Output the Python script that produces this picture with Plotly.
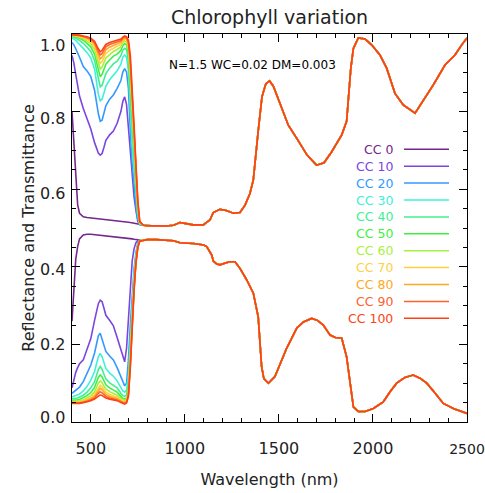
import plotly.graph_objects as go

# ---------------- data ----------------
CC_LEVELS = [0, 10, 20, 30, 40, 50, 60, 70, 80, 90, 100]
CC_COLORS = ["#74278c", "#7b45e0", "#3399ff", "#40f0d8", "#40f090", "#40f040",
             "#a8f040", "#ffd040", "#ffa820", "#ff6030", "#ff4214"]

# visible / red-edge wavelengths (nm), per-CC curves
WL_VIS = [400, 410, 420, 430, 440, 460, 480, 500, 520, 540, 550, 560, 570, 580,
          600, 620, 640, 660, 670, 680, 690, 700, 710, 720, 730, 740, 750, 760, 780]

# upper curves (1 - transmittance)
UP_VIS = {
    0:   [0.80, 0.72, 0.62, 0.56, 0.538, 0.529, 0.527, 0.526, 0.525, 0.524, 0.524, 0.523, 0.523, 0.522,
          0.521, 0.520, 0.519, 0.518, 0.517, 0.517, 0.516, 0.515, 0.514, 0.513, 0.512, 0.511, 0.510, 0.509, 0.507],
    10:  [0.945, 0.925, 0.895, 0.865, 0.840, 0.808, 0.780, 0.755, 0.720, 0.693, 0.688, 0.692, 0.708, 0.726,
          0.740, 0.750, 0.770, 0.800, 0.826, 0.838, 0.818, 0.760, 0.690, 0.628, 0.580, 0.545, 0.517, 0.509, 0.507],
    20:  [0.978, 0.972, 0.962, 0.952, 0.940, 0.916, 0.905, 0.890, 0.855, 0.795, 0.775, 0.778, 0.795, 0.815,
          0.832, 0.843, 0.860, 0.880, 0.902, 0.911, 0.902, 0.860, 0.750, 0.665, 0.617, 0.555, 0.522, 0.509, 0.507],
    30:  [0.990, 0.988, 0.984, 0.978, 0.972, 0.963, 0.952, 0.938, 0.910, 0.845, 0.828, 0.832, 0.848, 0.865,
          0.882, 0.895, 0.905, 0.922, 0.940, 0.946, 0.940, 0.905, 0.800, 0.710, 0.650, 0.585, 0.532, 0.510, 0.507],
    40:  [0.993, 0.992, 0.990, 0.987, 0.984, 0.976, 0.966, 0.955, 0.932, 0.880, 0.864, 0.868, 0.883, 0.898,
          0.912, 0.923, 0.930, 0.944, 0.958, 0.963, 0.960, 0.930, 0.845, 0.750, 0.680, 0.605, 0.540, 0.511, 0.507],
    50:  [0.995, 0.994, 0.993, 0.991, 0.989, 0.984, 0.976, 0.967, 0.948, 0.905, 0.890, 0.896, 0.909, 0.922,
          0.933, 0.943, 0.948, 0.958, 0.970, 0.975, 0.973, 0.948, 0.870, 0.780, 0.700, 0.620, 0.548, 0.512, 0.507],
    60:  [0.996, 0.995, 0.994, 0.993, 0.992, 0.988, 0.982, 0.975, 0.960, 0.922, 0.910, 0.915, 0.927, 0.938,
          0.947, 0.955, 0.960, 0.967, 0.977, 0.982, 0.980, 0.960, 0.890, 0.800, 0.715, 0.630, 0.553, 0.513, 0.507],
    70:  [0.997, 0.996, 0.995, 0.995, 0.994, 0.991, 0.986, 0.980, 0.968, 0.936, 0.924, 0.929, 0.940, 0.950,
          0.958, 0.964, 0.968, 0.974, 0.982, 0.987, 0.985, 0.968, 0.905, 0.820, 0.730, 0.640, 0.558, 0.514, 0.507],
    80:  [0.998, 0.997, 0.996, 0.996, 0.995, 0.993, 0.989, 0.984, 0.974, 0.946, 0.936, 0.940, 0.950, 0.959,
          0.966, 0.971, 0.974, 0.979, 0.986, 0.990, 0.988, 0.974, 0.918, 0.835, 0.742, 0.648, 0.562, 0.515, 0.507],
    90:  [0.998, 0.998, 0.997, 0.997, 0.996, 0.994, 0.991, 0.987, 0.978, 0.955, 0.946, 0.950, 0.959, 0.967,
          0.973, 0.977, 0.979, 0.983, 0.989, 0.993, 0.991, 0.979, 0.930, 0.850, 0.754, 0.657, 0.566, 0.516, 0.507],
    100: [0.998, 0.998, 0.998, 0.997, 0.997, 0.995, 0.993, 0.989, 0.981, 0.962, 0.954, 0.958, 0.966, 0.973,
          0.978, 0.981, 0.983, 0.987, 0.992, 0.995, 0.993, 0.984, 0.945, 0.865, 0.765, 0.665, 0.570, 0.517, 0.507],
}

# lower curves (reflectance)
LO_VIS = {
    0:   [0.26, 0.35, 0.42, 0.452, 0.472, 0.482, 0.484, 0.484, 0.483, 0.482, 0.482, 0.481, 0.481, 0.480,
          0.479, 0.478, 0.477, 0.476, 0.476, 0.475, 0.475, 0.474, 0.473, 0.472, 0.471, 0.470, 0.469, 0.469, 0.469],
    10:  [0.088, 0.110, 0.128, 0.140, 0.150, 0.160, 0.185, 0.215, 0.262, 0.305, 0.314, 0.310, 0.293, 0.275,
          0.262, 0.248, 0.218, 0.185, 0.165, 0.155, 0.190, 0.270, 0.355, 0.415, 0.447, 0.462, 0.468, 0.469, 0.469],
    20:  [0.074, 0.078, 0.082, 0.086, 0.090, 0.104, 0.124, 0.147, 0.178, 0.222, 0.229, 0.215, 0.198, 0.182,
          0.170, 0.160, 0.140, 0.115, 0.101, 0.093, 0.100, 0.160, 0.250, 0.335, 0.395, 0.437, 0.462, 0.469, 0.469],
    30:  [0.065, 0.066, 0.068, 0.070, 0.072, 0.080, 0.092, 0.108, 0.130, 0.168, 0.177, 0.168, 0.153, 0.138,
          0.126, 0.118, 0.106, 0.088, 0.080, 0.077, 0.082, 0.120, 0.210, 0.305, 0.380, 0.428, 0.458, 0.468, 0.469],
    40:  [0.060, 0.060, 0.061, 0.062, 0.064, 0.069, 0.077, 0.088, 0.104, 0.135, 0.143, 0.136, 0.123, 0.111,
          0.101, 0.094, 0.088, 0.074, 0.068, 0.066, 0.070, 0.100, 0.190, 0.290, 0.370, 0.423, 0.456, 0.468, 0.469],
    50:  [0.056, 0.056, 0.057, 0.057, 0.058, 0.062, 0.068, 0.076, 0.089, 0.115, 0.121, 0.116, 0.105, 0.096,
          0.088, 0.082, 0.077, 0.066, 0.061, 0.059, 0.062, 0.090, 0.175, 0.280, 0.362, 0.420, 0.454, 0.467, 0.469],
    60:  [0.053, 0.053, 0.053, 0.054, 0.054, 0.057, 0.062, 0.068, 0.078, 0.100, 0.106, 0.101, 0.092, 0.085,
          0.078, 0.073, 0.069, 0.061, 0.057, 0.055, 0.058, 0.083, 0.165, 0.270, 0.356, 0.417, 0.453, 0.467, 0.469],
    70:  [0.051, 0.051, 0.051, 0.051, 0.052, 0.054, 0.058, 0.063, 0.071, 0.089, 0.095, 0.091, 0.084, 0.077,
          0.071, 0.067, 0.064, 0.057, 0.053, 0.052, 0.055, 0.077, 0.157, 0.262, 0.352, 0.415, 0.452, 0.467, 0.469],
    80:  [0.050, 0.050, 0.050, 0.050, 0.050, 0.052, 0.055, 0.060, 0.066, 0.081, 0.087, 0.083, 0.077, 0.071,
          0.066, 0.063, 0.060, 0.054, 0.051, 0.050, 0.053, 0.073, 0.150, 0.256, 0.348, 0.413, 0.451, 0.466, 0.469],
    90:  [0.049, 0.049, 0.049, 0.049, 0.049, 0.051, 0.053, 0.057, 0.062, 0.074, 0.078, 0.075, 0.071, 0.066,
          0.062, 0.060, 0.057, 0.052, 0.049, 0.048, 0.051, 0.069, 0.145, 0.250, 0.344, 0.411, 0.450, 0.466, 0.469],
    100: [0.048, 0.048, 0.048, 0.048, 0.048, 0.050, 0.052, 0.055, 0.059, 0.068, 0.070, 0.068, 0.065, 0.062,
          0.059, 0.057, 0.055, 0.050, 0.047, 0.046, 0.049, 0.066, 0.140, 0.245, 0.340, 0.410, 0.450, 0.466, 0.469],
}

# NIR / SWIR part, identical for all chlorophyll levels
WL_UP_NIR = [800, 850, 900, 940, 974, 1000, 1045, 1098, 1134, 1151, 1187, 1220, 1258, 1293, 1320,
             1346, 1364, 1390, 1410, 1430, 1450, 1470, 1500, 1550, 1600, 1650, 1700, 1740, 1780, 1810,
             1834, 1860, 1870, 1882, 1896, 1922, 1958, 1993, 2037, 2073, 2117, 2161, 2224, 2277, 2321,
             2383, 2436, 2472, 2489, 2500]
UP_NIR = [0.506, 0.505, 0.505, 0.507, 0.514, 0.512, 0.508, 0.508, 0.521, 0.540, 0.548, 0.545, 0.538, 0.540, 0.559,
          0.589, 0.624, 0.750, 0.838, 0.871, 0.879, 0.866, 0.830, 0.765, 0.727, 0.688, 0.662, 0.668, 0.696, 0.720,
          0.740, 0.775, 0.840, 0.910, 0.963, 0.990, 0.987, 0.972, 0.946, 0.912, 0.847, 0.817, 0.796, 0.834, 0.869,
          0.920, 0.946, 0.972, 0.985, 0.990]

WL_LO_NIR = [800, 850, 900, 940, 974, 1045, 1100, 1116, 1143, 1151, 1170, 1187, 1215, 1240, 1267,
             1293, 1329, 1364, 1390, 1400, 1408, 1420, 1444, 1479, 1506, 1541, 1595, 1630, 1674, 1705,
             1736, 1772, 1800, 1834, 1860, 1882, 1896, 1922, 1958, 2002, 2055, 2091, 2126, 2170, 2214,
             2250, 2286, 2330, 2374, 2430, 2489, 2500]
LO_NIR = [0.470, 0.470, 0.469, 0.467, 0.462, 0.460, 0.456, 0.452, 0.430, 0.415, 0.407, 0.405, 0.410, 0.413, 0.413,
          0.396, 0.366, 0.332, 0.271, 0.205, 0.143, 0.112, 0.100, 0.117, 0.147, 0.190, 0.242, 0.258, 0.267, 0.262,
          0.250, 0.224, 0.218, 0.216, 0.168, 0.082, 0.039, 0.027, 0.027, 0.035, 0.052, 0.078, 0.100, 0.115, 0.121,
          0.113, 0.100, 0.075, 0.048, 0.034, 0.024, 0.022]

X_TICKS = [500, 1000, 1500, 2000, 2500]
Y_TICKS = [0.0, 0.2, 0.4, 0.6, 0.8, 1.0]
TITLE = "Chlorophyll variation"
X_TITLE = "Wavelength (nm)"
Y_TITLE = "Reflectance and Transmittance"
PARAM_TEXT = "N=1.5 WC=0.02 DM=0.003"

# ---------------- figure ----------------
FONT = "DejaVu Sans"
TXT = "#222222"
W, H = 485, 493
PX0, PX1, PY0, PY1 = 72, 467, 34, 422   # plot box in window pixels
PW, PH = PX1 - PX0, PY1 - PY0


def px_x(x):
    return (x - PX0) / PW


def px_y(y):
    return (PY1 - y) / PH


fig = go.Figure()
for cc, col in zip(CC_LEVELS, CC_COLORS):
    fig.add_trace(go.Scatter(x=WL_VIS + WL_UP_NIR, y=UP_VIS[cc] + UP_NIR, mode="lines",
                             line=dict(color=col, width=1.6), showlegend=False, hoverinfo="skip"))
    fig.add_trace(go.Scatter(x=WL_VIS + WL_LO_NIR, y=LO_VIS[cc] + LO_NIR, mode="lines",
                             line=dict(color=col, width=1.6), showlegend=False, hoverinfo="skip"))

annotations = []
shapes = []
# custom legend: coloured label to the left of a line sample
for i, (cc, col) in enumerate(zip(CC_LEVELS, CC_COLORS)):
    yp = px_y(149.3 + 16.9 * i)
    annotations.append(dict(text=f"CC {cc}", x=px_x(395), y=yp, xref="paper", yref="paper",
                            xanchor="right", yanchor="middle", showarrow=False,
                            font=dict(family=FONT, size=12.5, color=col)))
    shapes.append(dict(type="line", xref="paper", yref="paper",
                       x0=px_x(404), x1=px_x(449), y0=yp, y1=yp,
                       line=dict(color=col, width=1.5)))

annotations.append(dict(text=PARAM_TEXT, x=px_x(167), y=px_y(65), xref="paper", yref="paper",
                        xanchor="left", yanchor="middle", showarrow=False,
                        font=dict(family=FONT, size=12, color="black")))

# y tick labels (placed where the reference draws them, slightly inside the end ticks)
Y_LABEL_PX = [417.5, 344, 269.5, 193.5, 118, 45.5]
for v, ypx in zip(Y_TICKS, Y_LABEL_PX):
    annotations.append(dict(text=f"{v:.1f}", x=px_x(67), y=px_y(ypx), xref="paper", yref="paper",
                            xanchor="right", yanchor="middle", showarrow=False,
                            font=dict(family=FONT, size=16, color=TXT)))

# last x label is slightly smaller so it stays inside the window edge
x_ticktext = [str(v) for v in X_TICKS]
x_ticktext[-1] = f"<span style='font-size:14px'>{X_TICKS[-1]}</span>"

fig.update_layout(
    template="none",
    width=W, height=H,
    margin=dict(l=PX0, r=W - PX1, t=PY0, b=H - PY1, pad=0, autoexpand=False),
    paper_bgcolor="white", plot_bgcolor="white",
    font=dict(family=FONT, color=TXT),
    title=dict(text=TITLE, x=0.5, xref="paper", xanchor="center", y=1 - 17 / H, yref="container",
               yanchor="middle", font=dict(family=FONT, size=19, color=TXT)),
    annotations=annotations, shapes=shapes,
    showlegend=False,
)
fig.update_xaxes(range=[400, 2500], tickvals=X_TICKS, ticktext=x_ticktext,
                 ticks="inside", ticklen=8, tickcolor="black", tickwidth=1,
                 minor=dict(ticks="inside", dtick=100, tick0=0, ticklen=4, tickcolor="black", showgrid=False),
                 showline=True, linecolor="black", linewidth=1, mirror="ticks",
                 showgrid=False, zeroline=False, automargin=False, ticklabeloverflow="allow",
                 tickfont=dict(family=FONT, size=16, color=TXT), ticklabelstandoff=12,
                 title=dict(text=X_TITLE, font=dict(family=FONT, size=16, color=TXT), standoff=16))
fig.update_yaxes(range=[0, 1.0], tickvals=Y_TICKS, showticklabels=False,
                 ticks="inside", ticklen=8, tickcolor="black", tickwidth=1,
                 minor=dict(ticks="inside", dtick=0.05, tick0=0, ticklen=4, tickcolor="black", showgrid=False),
                 showline=True, linecolor="black", linewidth=1, mirror="ticks",
                 showgrid=False, zeroline=False, automargin=False,
                 title=dict(text=Y_TITLE, font=dict(family=FONT, size=16, color=TXT), standoff=32))

# the page's default 8px body margin is removed so the figure fills the window exactly
fig.write_html("out.html", config={"displayModeBar": False, "staticPlot": True},
               post_script="document.body.style.margin='0px';")
